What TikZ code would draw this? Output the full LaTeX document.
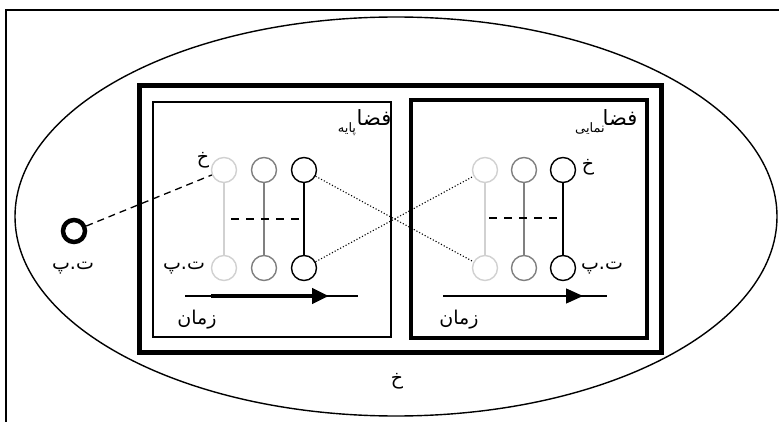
\documentclass[tikz,border=0pt]{standalone}
\usepackage{fontspec}
\newfontfamily\fa[Script=Arabic]{DejaVu Sans}
\TeXXeTstate=1
\usetikzlibrary{arrows.meta,shapes.geometric}
\definecolor{lg}{gray}{0.82}
\definecolor{mg}{gray}{0.5}
\tikzset{
  dot/.style={circle,draw,line width=1.4pt,minimum size=25pt,inner sep=0pt},
  falbl/.style={font=\fa\fontsize{19}{19}\selectfont,inner sep=0pt},
  fabig/.style={font=\fa\fontsize{21}{21}\selectfont,inner sep=0pt},
  fasub/.style={font=\fa\fontsize{13}{13}\selectfont,inner sep=0pt},
}
\begin{document}
\begin{tikzpicture}[x=1pt,y=-1pt]
\useasboundingbox (0,0) rectangle (779,422);
% frame
\draw[line width=2pt] (6,422) -- (6,10) -- (779,10);
% ellipse
\node[ellipse,draw,line width=1.4pt,minimum width=762pt,minimum height=399pt,inner sep=0pt] (ell) at (396,216.5) {};
% boxes
\node[draw,line width=5pt,minimum width=522pt,minimum height=266pt,inner sep=0pt] (big) at (400,219) {};
\node[draw,line width=1.5pt,minimum width=238pt,minimum height=235pt,inner sep=0pt] (lbox) at (272,219.5) {};
\node[draw,line width=3.5pt,minimum width=236pt,minimum height=238pt,inner sep=0pt] (rbox) at (529,219) {};
% left circles
\node[dot,draw=lg] (L1t) at (224,170) {};
\node[dot,draw=mg] (L2t) at (264,170) {};
\node[dot,draw=black] (L3t) at (304,170) {};
\node[dot,draw=lg] (L1b) at (224,268) {};
\node[dot,draw=mg] (L2b) at (264,268) {};
\node[dot,draw=black] (L3b) at (304,268) {};
\draw[lg,line width=1.4pt] (L1t) -- (L1b);
\draw[mg,line width=1.4pt] (L2t) -- (L2b);
\draw[black,line width=1.4pt] (L3t) -- (L3b);
% right circles
\node[dot,draw=lg] (R1t) at (485,170) {};
\node[dot,draw=mg] (R2t) at (524,170) {};
\node[dot,draw=black] (R3t) at (563,170) {};
\node[dot,draw=lg] (R1b) at (485,268) {};
\node[dot,draw=mg] (R2b) at (524,268) {};
\node[dot,draw=black] (R3b) at (563,268) {};
\draw[lg,line width=1.4pt] (R1t) -- (R1b);
\draw[mg,line width=1.4pt] (R2t) -- (R2b);
\draw[black,line width=1.4pt] (R3t) -- (R3b);
% dashed middle lines
\coordinate (Ld) at (231,219);
\coordinate (Le) at (304,219);
\coordinate (Rd) at (489,218);
\coordinate (Re) at (563,218);
\draw[line width=1.5pt,dash pattern=on 8pt off 7pt] (Ld) -- (Le);
\draw[line width=1.5pt,dash pattern=on 8pt off 7pt] (Rd) -- (Re);
% dotted cross lines
\draw[line width=1.1pt,dotted] (L3t) -- (R1b);
\draw[line width=1.1pt,dotted] (L3b) -- (R1t);
% outside point
\node[circle,draw,line width=4.5pt,minimum size=22pt,inner sep=0pt] (O) at (74,231) {};
\draw[line width=1.3pt,dash pattern=on 7pt off 5pt] (O) -- (L1t);
\node[falbl] (Olbl) at (73,268) {\beginR ت.پ\endR};
% labels left box
\node[falbl] (LKh) at (203,160) {\beginR خ\endR};
\node[falbl] (LTP) at (184,268) {\beginR ت.پ\endR};
\node[fabig] (LFa) at (374,118) {\beginR فضا\endR};
\node[fasub] (LSub) at (347,129) {\beginR پایه\endR};
% labels right box
\node[falbl] (RKh) at (588,167) {\beginR خ\endR};
\node[falbl] (RTP) at (602,268) {\beginR ت.پ\endR};
\node[fabig] (RFa) at (620,118) {\beginR فضا\endR};
\node[fasub] (RSub) at (590,129) {\beginR نمایی\endR};
% time arrows
\coordinate (LA0) at (185,296);
\coordinate (LA1) at (358,296);
\coordinate (LT0) at (211,296);
\coordinate (LT1) at (329,296);
\draw[line width=1.3pt] (LA0) -- (LA1);
\draw[line width=4.5pt,-{Triangle[length=17pt,width=15pt]}] (LT0) -- (LT1);
\coordinate (RA0) at (443,296);
\coordinate (RA1) at (607,296);
\coordinate (RT1) at (583,296);
\draw[line width=1.3pt] (RA0) -- (RA1);
\draw[line width=1.3pt,-{Triangle[length=17pt,width=15pt]}] (RA0) -- (RT1);
\node[falbl] (LZ) at (197,320) {\beginR زمان\endR};
\node[falbl] (RZ) at (459,320) {\beginR زمان\endR};
% bottom label
\node[falbl] (BKh) at (397,381) {\beginR خ\endR};
\end{tikzpicture}
\end{document}
